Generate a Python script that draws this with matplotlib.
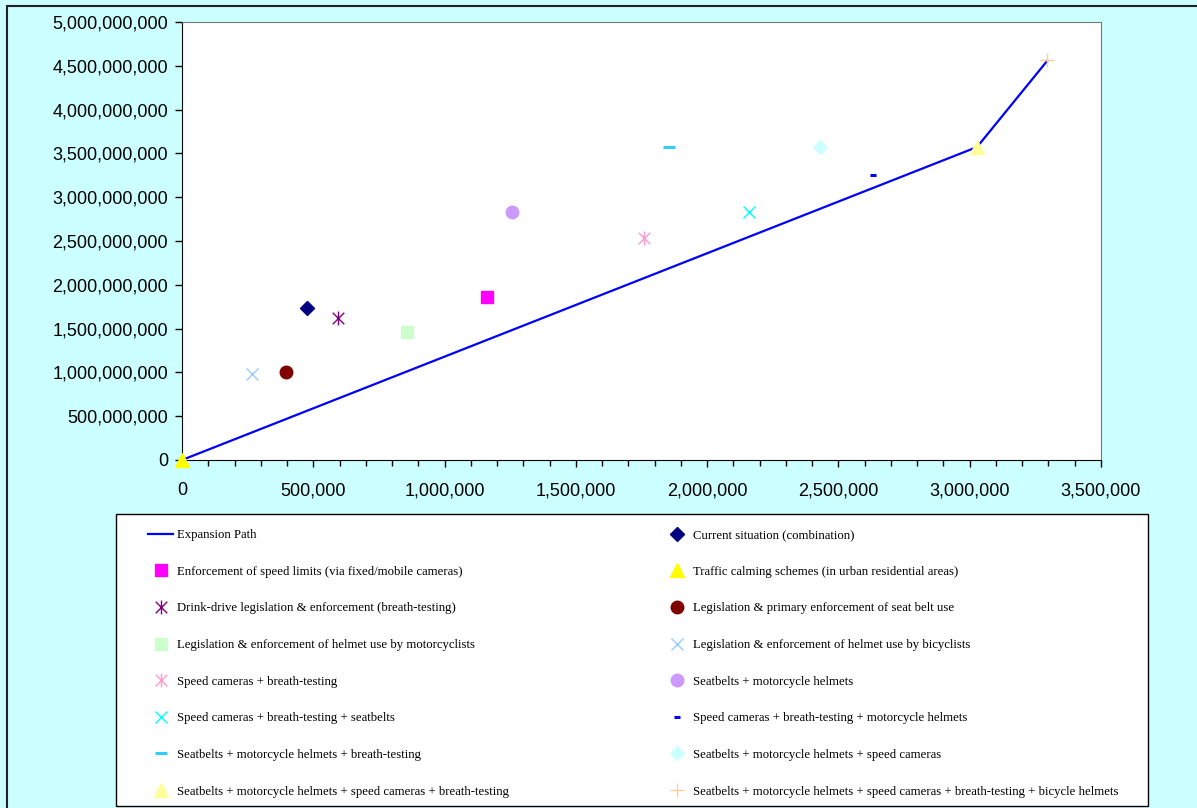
import numpy as np
import matplotlib.pyplot as plt
from matplotlib.path import Path
from matplotlib.patches import Rectangle
from matplotlib.ticker import FuncFormatter, MultipleLocator

# expansion path (cost, health gain)
path_x = [0, 3028000, 3296000]
path_y = [0, 3.573e9, 4.560e9]

labels = [
    "Current situation (combination)",
    "Enforcement of speed limits (via fixed/mobile cameras)",
    "Traffic calming schemes (in urban residential areas)",
    "Drink-drive legislation & enforcement (breath-testing)",
    "Legislation & primary enforcement of seat belt use",
    "Legislation & enforcement of helmet use by motorcyclists",
    "Legislation & enforcement of helmet use by bicyclists",
    "Speed cameras + breath-testing",
    "Seatbelts + motorcycle helmets",
    "Speed cameras + breath-testing + seatbelts",
    "Speed cameras + breath-testing + motorcycle helmets",
    "Seatbelts + motorcycle helmets + breath-testing",
    "Seatbelts + motorcycle helmets + speed cameras",
    "Seatbelts + motorcycle helmets + speed cameras + breath-testing",
    "Seatbelts + motorcycle helmets + speed cameras + breath-testing + bicycle helmets",
]
xs = [476000, 1162000, 0, 594000, 396000, 857000, 267000, 1760000,
      1257000, 2159000, 2632000, 1855000, 2430000, 3028000, 3296000]
ys = [1.735e9, 1.861e9, 0, 1.621e9, 1.005e9, 1.461e9, 0.982e9, 2.534e9,
      2.831e9, 2.831e9, 3.253e9, 3.573e9, 3.573e9, 3.573e9, 4.566e9]

# excel-like star: X plus vertical bar
star = Path([(-1, -1), (1, 1), (-1, 1), (1, -1), (0, -1.2), (0, 1.2)],
            [Path.MOVETO, Path.LINETO, Path.MOVETO, Path.LINETO, Path.MOVETO, Path.LINETO])

styles = [
    dict(marker="D", color="#000080", ms=7.5),
    dict(marker="s", color="#FF00FF", ms=8.5),
    dict(marker="^", color="#FFFF00", ms=10),
    dict(marker=star, color="#800080", ms=10, mew=1),
    dict(marker="o", color="#800000", ms=9),
    dict(marker="s", color="#CCFFCC", ms=8.5),
    dict(marker="x", color="#99CCFF", ms=9, mew=1),
    dict(marker=star, color="#FF99CC", ms=10, mew=1),
    dict(marker="o", color="#CC99FF", ms=9),
    dict(marker="x", color="#00FFFF", ms=9, mew=1),
    dict(marker="_", color="#0000FF", ms=5, mew=2.2),
    dict(marker="_", color="#33CCFF", ms=9, mew=2.2),
    dict(marker="D", color="#CCFFFF", ms=7.5),
    dict(marker="^", color="#FFFF99", ms=10),
    dict(marker="+", color="#FFCC99", ms=10, mew=1),
]

fig = plt.figure(figsize=(11.97, 8.08), dpi=100, facecolor="#CCFFFF")
W, H = 1197, 808

# outer chart border
fig.patches.append(Rectangle((7 / W, -0.1), 1.1, 1 - 6 / H + 0.1, transform=fig.transFigure,
                             fill=False, edgecolor="#222222", lw=1.5))

ax = fig.add_axes([182 / W, 1 - 460 / H, (1101 - 182) / W, (460 - 22) / H])
ax.set_facecolor("white")

handles = []
h, = ax.plot(path_x, path_y, color="#0000FF", lw=1.6, label="Expansion Path")
handles.append(h)
for x, y, lab, st in zip(xs, ys, labels, styles):
    st = dict(st)
    c = st.pop("color")
    h, = ax.plot([x], [y], linestyle="none", color=c, mfc=c, mec=c, label=lab,
                 clip_on=False, zorder=3, **st)
    handles.append(h)

ax.set_xlim(0, 3500000)
ax.set_ylim(0, 5e9)
ax.xaxis.set_major_locator(MultipleLocator(500000))
ax.xaxis.set_minor_locator(MultipleLocator(100000))
ax.yaxis.set_major_locator(MultipleLocator(5e8))
fmt = FuncFormatter(lambda v, p: "{:,.0f}".format(v))
ax.xaxis.set_major_formatter(fmt)
ax.yaxis.set_major_formatter(fmt)
ax.tick_params(which="major", direction="out", length=5, width=1, labelsize=13)
ax.tick_params(which="minor", direction="out", length=4, width=1)
ax.tick_params(axis="x", which="major", pad=11)
ax.tick_params(axis="y", which="major", pad=5)
for lab in ax.get_xticklabels() + ax.get_yticklabels():
    lab.set_fontfamily("Liberation Sans")
for s in ["top", "right"]:
    ax.spines[s].set_color("#777777")
for s in ["left", "bottom"]:
    ax.spines[s].set_color("black")

# legend box
fig.patches.append(Rectangle((116 / W, 1 - 806 / H), (1148 - 116) / W, (806 - 514) / H,
                             transform=fig.transFigure, facecolor="white",
                             edgecolor="black", lw=1))
order = handles[0::2] + handles[1::2]
fig.legend(handles=order, labels=[o.get_label() for o in order], ncol=2,
           loc="upper left", bbox_to_anchor=(148 / W, 1 - 529 / H),
           frameon=False, borderpad=0, borderaxespad=0,
           prop={"family": "Liberation Serif", "size": 9.2},
           handlelength=1.96, handletextpad=0.31, columnspacing=12.13,
           labelspacing=1.93)

fig.savefig("out.png", dpi=100, facecolor=fig.get_facecolor())
